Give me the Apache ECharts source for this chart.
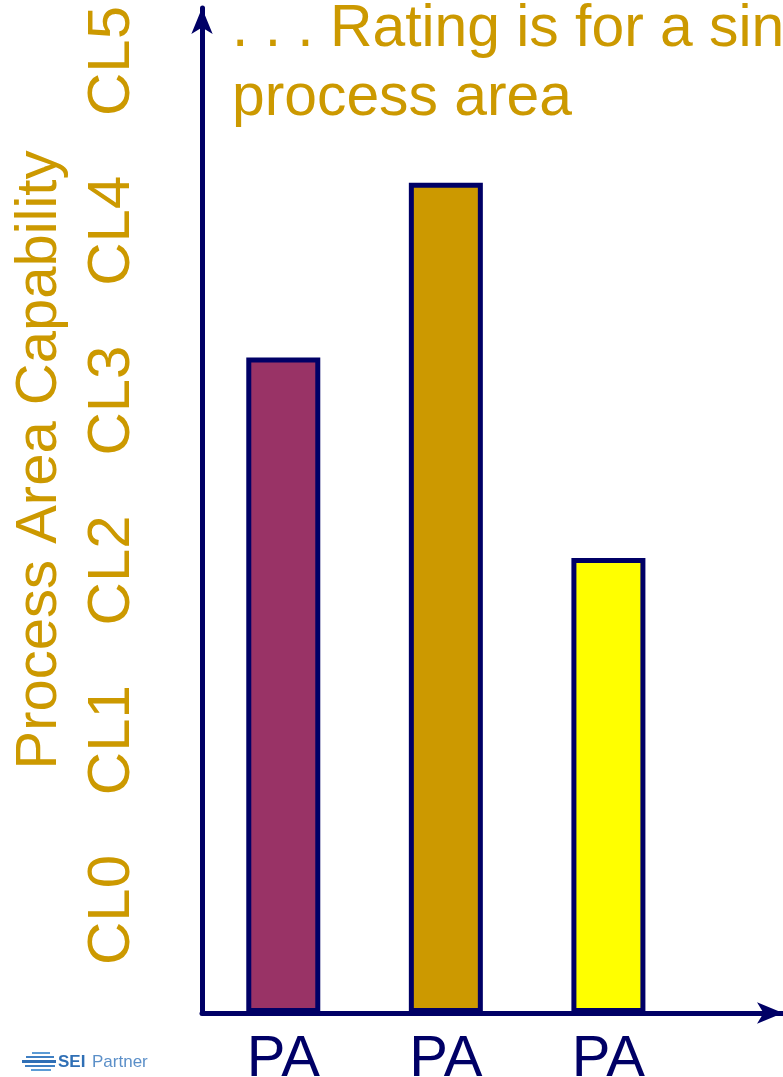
<!DOCTYPE html>
<html>
<head>
<meta charset="utf-8">
<script src="https://cdn.jsdelivr.net/npm/echarts@6/dist/echarts.min.js"></script>
<style>
html,body{margin:0;padding:0;background:#fff;}
#chart{width:783px;height:1077px;}
</style>
</head>
<body>
<div id="chart"></div>
<script>
// ---- data ----
const categories = ['PA', 'PA', 'PA'];
const capability = [3.86, 4.89, 2.68];
const levels = ['CL0', 'CL1', 'CL2', 'CL3', 'CL4', 'CL5'];
const axisTitle = 'Process Area Capability';
const noteText = '. . . Rating is for a single\nprocess area';

// ---- styles ----
const navy = '#000066';
const gold = '#CC9900';
const palette = ['#993366', '#CC9900', '#FFFF00'];
const font = '"Liberation Sans", Arial, sans-serif';
const labelOffset = 0.607;

const chart = echarts.init(document.getElementById('chart'), null, {renderer: 'canvas'});
chart.setOption({
  animation: false,
  backgroundColor: '#ffffff',
  title: {
    text: noteText,
    left: 232,
    top: -5,
    padding: 0,
    textStyle: {color: gold, fontSize: 58.8, lineHeight: 69, fontWeight: 'normal', fontFamily: font}
  },
  grid: {left: 202, right: 0, top: 8, bottom: 64, containLabel: false, outerBoundsMode: 'none'},
  xAxis: {
    type: 'value', min: -0.5, max: 3.074,
    axisLine: {show: true, onZero: false, lineStyle: {color: navy, width: 5}, symbol: ['none', 'arrow'], symbolSize: [16, 26]},
    axisTick: {show: false},
    splitLine: {show: false},
    axisLabel: {
      customValues: categories.map((_, i) => i),
      formatter: v => categories[Math.round(v)],
      color: navy, fontSize: 58, fontFamily: font, margin: 18
    }
  },
  yAxis: {
    type: 'value', min: 0, max: 5.919,
    axisLine: {show: true, onZero: false, lineStyle: {color: navy, width: 5}, symbol: ['none', 'arrow'], symbolSize: [16, 26]},
    axisTick: {show: false},
    splitLine: {show: false},
    axisLabel: {
      customValues: levels.map((_, i) => i + labelOffset),
      formatter: v => levels[Math.round(v - labelOffset)],
      rotate: 90, color: gold, fontSize: 60, fontFamily: font, margin: 60
    }
  },
  graphic: [
    {
      type: 'text', x: 40, y: 460, rotation: Math.PI / 2,
      style: {text: axisTitle, fill: gold, font: '58px ' + font, textAlign: 'center', textVerticalAlign: 'middle'}
    },
    {
      type: 'group', left: 22, top: 1052,
      children: [
        {type: 'rect', shape: {x: 10, y: 0, width: 18, height: 2}, style: {fill: '#5b9bd5'}},
        {type: 'rect', shape: {x: 4, y: 4, width: 28, height: 2}, style: {fill: '#3f7fc2'}},
        {type: 'rect', shape: {x: 0, y: 8, width: 34, height: 3}, style: {fill: '#2f6fb5'}},
        {type: 'rect', shape: {x: 3, y: 13, width: 30, height: 2}, style: {fill: '#3f7fc2'}},
        {type: 'rect', shape: {x: 9, y: 17, width: 20, height: 2}, style: {fill: '#5b9bd5'}},
        {type: 'text', x: 36, y: 10, style: {text: 'SEI', fill: '#2f6fb5', font: 'bold 17px ' + font, textVerticalAlign: 'middle'}},
        {type: 'text', x: 70, y: 10, style: {text: 'Partner', fill: '#5b8fc8', font: '17px ' + font, textVerticalAlign: 'middle'}}
      ]
    }
  ],
  series: [{
    type: 'bar',
    data: capability.map((v, i) => [i, v]),
    barWidth: 74,
    itemStyle: {
      color: p => palette[p.dataIndex % palette.length],
      borderColor: navy, borderWidth: 5
    }
  }]
});
</script>
</body>
</html>
